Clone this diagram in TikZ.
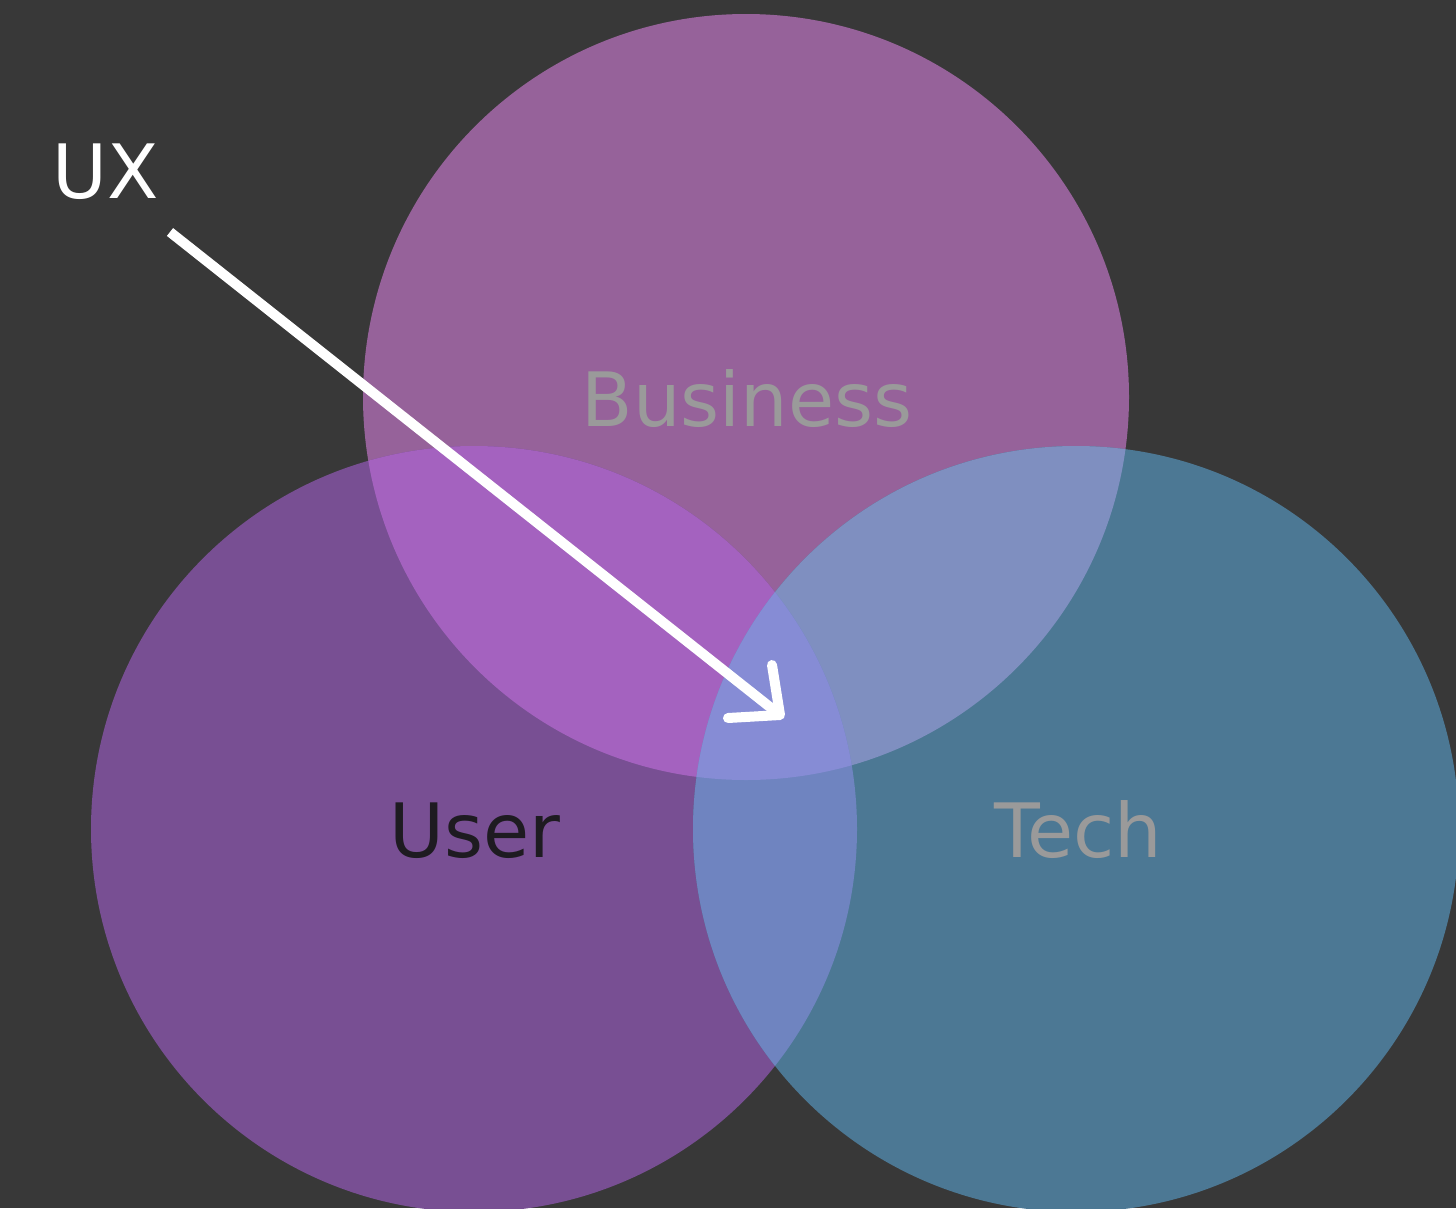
\documentclass[tikz,border=0pt]{standalone}
\usepackage{fontspec}
\setmainfont{DejaVu Sans}
\usepackage{tikz}
\usetikzlibrary{positioning, calc}
\definecolor{bgGray}{HTML}{383838}
\definecolor{busCol}{HTML}{96629A}
\definecolor{userCol}{HTML}{784F93}
\definecolor{techCol}{HTML}{4C7894}
\definecolor{userBus}{HTML}{A462BF}
\definecolor{busTech}{HTML}{7F8FC0}
\definecolor{userTech}{HTML}{6F84C0}
\definecolor{allCol}{HTML}{868CD5}
\definecolor{labelGray}{HTML}{9A9A9A}
\definecolor{labelDark}{HTML}{1E1B21}
\tikzstyle{setLabel}=[font=\fontsize{75}{80}\selectfont, inner sep=0pt, anchor=base]
\tikzstyle{uxLine}=[white, line width=10pt]
\tikzstyle{uxHead}=[white, line width=10pt, line cap=round, line join=round]

\begin{document}
\begin{tikzpicture}[x=1pt, y=-1pt]
      \fill[bgGray] (0,0) rectangle (1456,1208);
      \useasboundingbox (0,0) rectangle (1456,1208);
      \clip (0,0) rectangle (1456,1208);

      \coordinate (business) at (746,397);
      \coordinate (user) at (474,829);
      \coordinate (tech) at (1076,829);
      \def\rad{383}

      % single sets
      \foreach \c/\col in {business/busCol, user/userCol, tech/techCol}{
        \fill[\col] (\c) circle (\rad);
      }

      % pairs
      \foreach \a/\b/\col in {user/business/userBus, business/tech/busTech, user/tech/userTech}{
        \begin{scope}
          \clip (\a) circle (\rad);
          \fill[\col] (\b) circle (\rad);
        \end{scope}
      }

      % all three
      \begin{scope}
        \clip (user) circle (\rad);
        \clip (business) circle (\rad);
        \fill[allCol] (tech) circle (\rad);
      \end{scope}

      \node[setLabel, text=labelGray] (businessLabel) at (747,426) {Business};
      \node[setLabel, text=labelDark] (userLabel) at (475,857) {User};
      \node[setLabel, text=labelGray] (techLabel) at (1078,857) {Tech};
      \node[setLabel, text=white, anchor=base west] (uxLabel) at (52,198) {UX};

      \coordinate (uxStart) at (170,232);
      \coordinate (uxTip) at (780,715);
      \coordinate (headUp) at (772,665);
      \coordinate (headLeft) at (728,718);

      \draw[uxLine] (uxStart) -- ($(uxTip)!3pt!(uxStart)$);
      \draw[uxHead] (headUp) -- (uxTip) -- (headLeft);
    \end{tikzpicture}
\end{document}
